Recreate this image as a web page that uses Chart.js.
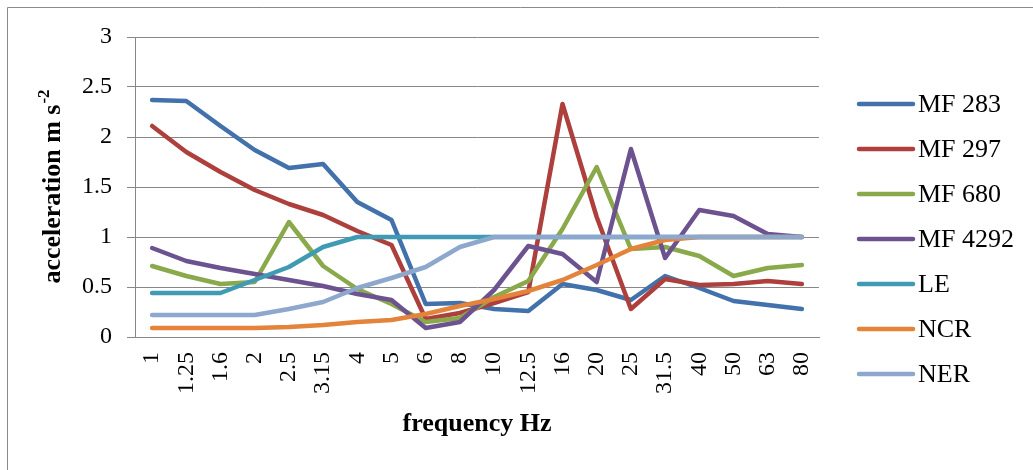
<!DOCTYPE html>
<html>
<head>
<meta charset="utf-8">
<script src="https://cdn.jsdelivr.net/npm/chart.js@4"></script>
<style>
  html, body { margin: 0; padding: 0; background: #ffffff; }
  #wrap { width: 1033px; height: 470px; position: relative; }
</style>
</head>
<body>
<div id="wrap"><canvas id="chart" width="1033" height="470"></canvas></div>
<script>
// one-third-octave band centre frequencies (Hz)
const frequencies = ['1', '1.25', '1.6', '2', '2.5', '3.15', '4', '5', '6', '8',
                     '10', '12.5', '16', '20', '25', '31.5', '40', '50', '63', '80'];

// acceleration (m s-2) per band
const mf283  = [2.37, 2.36, 2.11, 1.87, 1.69, 1.73, 1.35, 1.17, 0.33, 0.34, 0.28, 0.26, 0.53, 0.47, 0.37, 0.61, 0.49, 0.36, 0.32, 0.28];
const mf297  = [2.11, 1.85, 1.65, 1.47, 1.33, 1.22, 1.06, 0.92, 0.18, 0.24, 0.34, 0.45, 2.33, 1.20, 0.28, 0.58, 0.52, 0.53, 0.56, 0.53];
const mf680  = [0.71, 0.61, 0.53, 0.55, 1.15, 0.71, 0.48, 0.33, 0.15, 0.19, 0.40, 0.56, 1.08, 1.70, 0.88, 0.90, 0.81, 0.61, 0.69, 0.72];
const mf4292 = [0.89, 0.76, 0.69, 0.63, 0.57, 0.51, 0.43, 0.37, 0.09, 0.15, 0.47, 0.91, 0.83, 0.55, 1.88, 0.79, 1.27, 1.21, 1.03, 1.00];
const le     = [0.44, 0.44, 0.44, 0.57, 0.70, 0.90, 1.00, 1.00, 1.00, 1.00, 1.00, 1.00, 1.00, 1.00, 1.00, 1.00, 1.00, 1.00, 1.00, 1.00];
const ncr    = [0.09, 0.09, 0.09, 0.09, 0.10, 0.12, 0.15, 0.17, 0.23, 0.31, 0.38, 0.46, 0.57, 0.72, 0.88, 0.97, 1.00, 1.00, 1.00, 1.00];
const ner    = [0.22, 0.22, 0.22, 0.22, 0.28, 0.35, 0.49, 0.59, 0.70, 0.90, 1.00, 1.00, 1.00, 1.00, 1.00, 1.00, 1.00, 1.00, 1.00, 1.00];

const seriesNames  = ['MF 283', 'MF 297', 'MF 680', 'MF 4292', 'LE', 'NCR', 'NER'];
const seriesValues = [mf283, mf297, mf680, mf4292, le, ncr, ner];
const seriesColors = ['#4271ab', '#ad403d', '#89a94b', '#6c5390', '#3f9bb4', '#e4833a', '#8ea8cd'];

const yTicks = { min: 0, max: 3, step: 0.5 };

const SERIF = '"Liberation Serif", "Times New Roman", serif';
const GRID = '#878787';

const datasets = seriesNames.map((name, i) => ({
  label: name,
  data: seriesValues[i],
  borderColor: seriesColors[i],
  backgroundColor: seriesColors[i],
  borderWidth: 4.5,
  borderCapStyle: 'round',
  borderJoinStyle: 'round',
  pointRadius: 0,
  pointHoverRadius: 0,
  tension: 0,
  fill: false,
  // later series are painted over earlier ones
  order: seriesNames.length - i
}));

// frame, axis titles and the series key
const decorations = {
  id: 'decorations',
  beforeDraw(chart) {
    const ctx = chart.ctx;
    ctx.save();
    ctx.fillStyle = '#ffffff';
    ctx.fillRect(0, 0, chart.width, chart.height);
    ctx.strokeStyle = '#8a8a8a';
    ctx.lineWidth = 1;
    ctx.beginPath();
    ctx.moveTo(7.5, chart.height);
    ctx.lineTo(7.5, 7.5);
    ctx.lineTo(chart.width, 7.5);
    ctx.stroke();
    ctx.restore();
  },
  afterDraw(chart) {
    const ctx = chart.ctx;
    const area = chart.chartArea;
    ctx.save();
    ctx.fillStyle = '#000000';

    // x title
    ctx.font = 'bold 26px ' + SERIF;
    ctx.textAlign = 'center';
    ctx.textBaseline = 'middle';
    ctx.fillText('frequency Hz', (area.left + area.right) / 2, 424);

    // y title with superscript unit exponent
    const main = 'acceleration m s';
    const sup = '-2';
    ctx.translate(53, (area.top + area.bottom) / 2);
    ctx.rotate(-Math.PI / 2);
    ctx.font = 'bold 26px ' + SERIF;
    const w1 = ctx.measureText(main).width;
    ctx.font = 'bold 17px ' + SERIF;
    const w2 = ctx.measureText(sup).width;
    const x0 = -(w1 + w2) / 2;
    ctx.textAlign = 'left';
    ctx.textBaseline = 'middle';
    ctx.font = 'bold 26px ' + SERIF;
    ctx.fillText(main, x0, 0);
    ctx.font = 'bold 17px ' + SERIF;
    ctx.fillText(sup, x0 + w1 + 1, -8);
    ctx.setTransform(1, 0, 0, 1, 0, 0);

    // series key
    ctx.font = '26px ' + SERIF;
    ctx.textAlign = 'left';
    ctx.textBaseline = 'middle';
    chart.data.datasets.forEach((ds, i) => {
      const y = 104 + 45 * i;
      ctx.strokeStyle = ds.borderColor;
      ctx.lineWidth = 4.5;
      ctx.lineCap = 'round';
      ctx.beginPath();
      ctx.moveTo(859, y);
      ctx.lineTo(913, y);
      ctx.stroke();
      ctx.fillStyle = '#000000';
      ctx.fillText(ds.label, 918, y + 1);
    });
    ctx.restore();
  }
};

new Chart(document.getElementById('chart'), {
  type: 'line',
  data: { labels: frequencies, datasets },
  options: {
    responsive: false,
    animation: false,
    devicePixelRatio: 1,
    layout: { padding: { top: 37, right: 214, bottom: 0, left: 0 } },
    plugins: {
      legend: { display: false },
      tooltip: { enabled: false },
      title: { display: false }
    },
    scales: {
      x: {
        type: 'category',
        offset: true,
        grid: { display: false, drawTicks: false },
        border: { display: true, color: GRID, width: 1 },
        ticks: {
          color: '#000000',
          font: { family: SERIF, size: 24 },
          minRotation: 90,
          maxRotation: 90,
          autoSkip: false,
          padding: 15
        },
        afterFit(scale) { scale.height = 470 - 337; }
      },
      y: {
        min: yTicks.min,
        max: yTicks.max,
        grid: { color: GRID, lineWidth: 1, drawTicks: true, tickLength: 8, tickColor: GRID },
        border: { display: true, color: GRID, width: 1 },
        ticks: {
          stepSize: yTicks.step,
          color: '#000000',
          font: { family: SERIF, size: 24 },
          padding: 15,
          callback: (v) => String(Math.round(v * 10) / 10)
        },
        afterFit(scale) { scale.width = 135; }
      }
    }
  },
  plugins: [decorations]
});
</script>
</body>
</html>
